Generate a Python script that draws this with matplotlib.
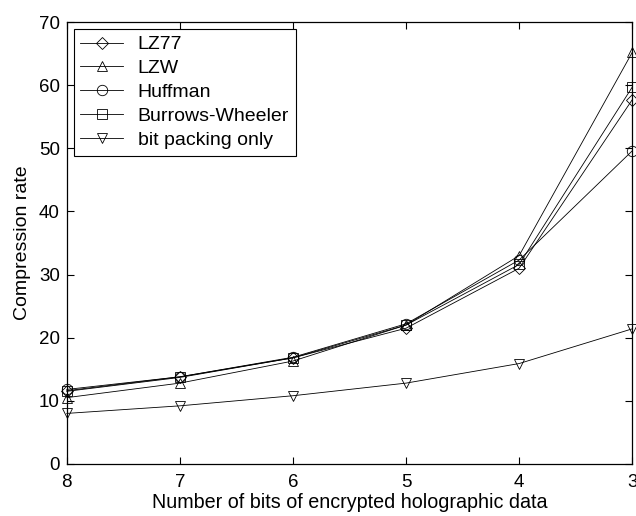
import matplotlib
matplotlib.use("Agg")
import matplotlib.pyplot as plt

bits = [8, 7, 6, 5, 4, 3]
lz77 = [11.6, 13.8, 16.8, 21.5, 31.0, 57.7]
lzw = [10.5, 12.8, 16.3, 22.0, 33.0, 65.2]
huffman = [11.8, 13.8, 16.9, 22.2, 32.3, 49.6]
bwt = [11.5, 13.7, 16.8, 22.0, 31.6, 59.7]
bitpack = [8.0, 9.2, 10.8, 12.8, 15.9, 21.4]

series = [
    ("LZ77", lz77, "D"),
    ("LZW", lzw, "^"),
    ("Huffman", huffman, "o"),
    ("Burrows-Wheeler", bwt, "s"),
    ("bit packing only", bitpack, "v"),
]

plt.rcParams['font.family'] = ['Liberation Sans', 'DejaVu Sans']

fig = plt.figure(figsize=(6.36, 5.16), dpi=100)
ax = fig.add_axes([0.105, 0.101, 0.889, 0.856])

for name, vals, m in series:
    ms = 6.3 if m == "D" else 7.5
    ax.plot(bits, vals, color="black", lw=0.6, marker=m, markersize=ms,
            markerfacecolor="none", markeredgecolor="black", markeredgewidth=0.6,
            label=name, clip_on=False)

ax.set_xlim(8, 3)
ax.set_ylim(0, 70)
ax.set_xticks(bits)
ax.set_yticks(range(0, 71, 10))
ax.tick_params(direction="in", length=5, labelsize=13.5, top=True, right=True, width=0.8)
ax.tick_params(axis="x", pad=7)
ax.tick_params(axis="y", pad=5)
for s in ax.spines.values():
    s.set_linewidth(0.9)
ax.set_xlabel("Number of bits of encrypted holographic data", fontsize=14.2, labelpad=2)
ax.set_ylabel("Compression rate", fontsize=14, labelpad=6)

leg = ax.legend(loc="upper left", fontsize=14, frameon=True, fancybox=False,
                edgecolor="black", framealpha=1, handlelength=2.2,
                borderaxespad=0.35, labelspacing=0.32, handletextpad=0.75,
                borderpad=0.35)
leg.get_frame().set_linewidth(0.8)

fig.savefig("out.png", dpi=100)
